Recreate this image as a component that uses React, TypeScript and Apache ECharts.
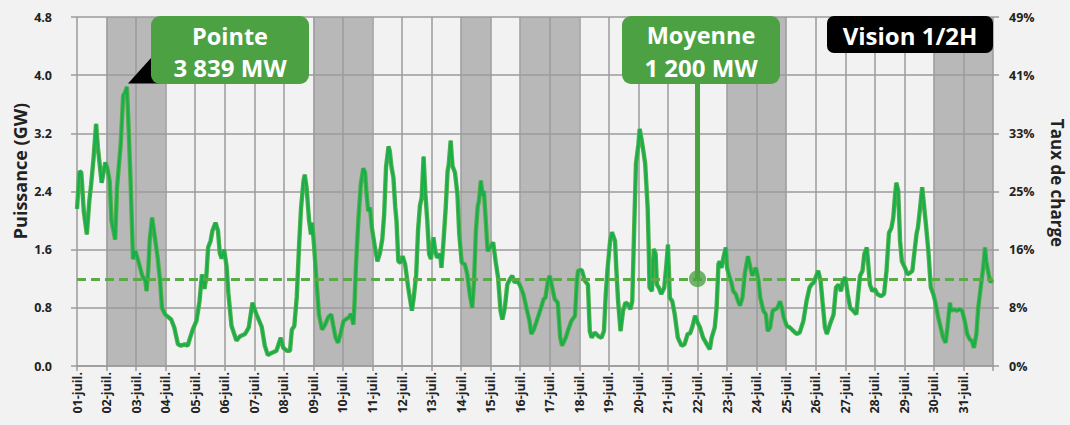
import React, { useEffect, useRef } from "react";
import * as echarts from "echarts";

const dayLabels = [
  "01-juil.", "02-juil.", "03-juil.", "04-juil.", "05-juil.", "06-juil.", "07-juil.", "08-juil.",
  "09-juil.", "10-juil.", "11-juil.", "12-juil.", "13-juil.", "14-juil.", "15-juil.", "16-juil.",
  "17-juil.", "18-juil.", "19-juil.", "20-juil.", "21-juil.", "22-juil.", "23-juil.", "24-juil.",
  "25-juil.", "26-juil.", "27-juil.", "28-juil.", "29-juil.", "30-juil.", "31-juil.",
];

const rightTickLabels = ["0%", "8%", "16%", "25%", "33%", "41%", "49%"];

// hours elapsed since 01-juil. 00:00
const hours = [
  0, 2, 3.5, 5.5, 8, 10, 11.5, 13.5, 15.5, 17, 20, 21, 23, 24.5, 26.5, 28, 31, 32.5, 35.5, 37.5,
  39, 40.5, 41.5, 43.5, 45.5, 47.5, 50.5, 53, 55.5, 56.5, 58, 59, 61, 62.5, 65.5, 67.5, 69, 71.5,
  76.5, 79, 82, 84.5, 87.5, 90, 91.5, 94, 97, 99.5, 101.5, 103.5, 105, 106.5, 108.5, 110, 112.5,
  114.5, 116, 117.5, 119.5, 121.5, 123, 125.5, 129.5, 132.5, 136.5, 139.5, 142.5, 145.5, 150,
  152.5, 155, 158, 162, 165.5, 167.5, 170.5, 173, 174.5, 176.5, 178.5, 180.5, 182, 184, 185,
  186.5, 188.5, 190, 191, 192.5, 194.5, 196.5, 199, 201.5, 204, 206.5, 208, 210, 212, 214, 216.5,
  219, 221, 222.5, 224.5, 225.5, 226.5, 228.5, 230.5, 232.5, 234, 235, 236.5, 238, 239.5, 242,
  244, 246, 248, 249.5, 251, 253, 254, 255.5, 257, 258.5, 259.5, 261, 263, 264.5, 266.5, 269, 272,
  273.5, 275.5, 277, 278.5, 280, 281.5, 283, 284.5, 286, 287.5, 289.5, 291, 292.5, 295, 296,
  297.5, 299.5, 301, 302, 303.5, 305, 307, 309, 310.5, 312.5, 315, 317, 319, 321, 322.5, 324,
  325.5, 326.5, 328, 329.5, 330.5, 332, 333.5, 335.5, 338, 340, 342, 344, 345.5, 347.5, 349.5,
  351.5, 353.5, 355.5, 357.5, 359.5, 362.5, 365, 367.5, 369, 371, 373, 376.5, 379, 380.5, 382.5,
  384, 386, 388, 390.5, 392.5, 394, 397, 399, 401.5, 404.5, 406, 407, 410, 412.5, 415, 416.5,
  418, 420.5, 423.5, 426, 428, 429.5, 431, 433, 434.5, 437, 438, 439.5, 441.5, 443.5, 445.5,
  447.5, 449.5, 451, 452.5, 454, 456, 457, 458.5, 460, 461.5, 463.5, 464.5, 465, 467, 468.5, 470,
  471, 472.5, 474.5, 477, 478.5, 480, 481.5, 483.5, 485.5, 488, 491, 493.5, 496, 498, 500, 502,
  504, 506, 508.5, 511.5, 514, 515.5, 518, 519.5, 521, 522, 523.5, 525, 527, 528, 530, 531.5, 533,
  535, 537, 538.5, 540.5, 542.5, 544, 545, 547, 548.5, 550, 551.5, 553.5, 555, 557.5, 559.5, 561,
  563, 565, 567, 569, 571, 572.5, 574, 576.5, 579, 582, 584.5, 587, 590, 592.5, 595, 596.5, 598.5,
  600, 602, 604, 605.5, 607.5, 609, 611.5, 614.5, 616.5, 618.5, 620.5, 622, 624, 626, 628, 630.5,
  633, 634.5, 636, 638, 639.5, 641.5, 642.5, 644, 646, 648, 650, 653, 655.5, 657.5, 659.5, 661.5,
  663, 664.5, 665.5, 667, 668.5, 670, 672.5, 674.5, 676.5, 678.5, 680, 682, 683, 684.5, 686.5,
  687.5, 689.5, 691.5, 693.5, 695.5, 697, 699.5, 701.5, 703.5, 705.5, 707, 709, 710, 712.5, 714.5,
  717, 719, 721, 723, 725, 727, 728.5, 730.5, 732, 734, 736, 737.5, 738.5, 740.5, 742, 743.5,
];

// power in GW
const powerGW = [
  2.16, 2.68, 2.66, 2.13, 1.81, 2.27, 2.5, 2.87, 3.33, 3.0, 2.52, 2.61, 2.8, 2.73, 2.55, 2.0, 1.74,
  2.45, 3.05, 3.72, 3.76, 3.839, 3.46, 2.55, 1.47, 1.58, 1.4, 1.24, 1.17, 1.03, 1.35, 1.72, 2.04,
  1.86, 1.49, 1.17, 0.8, 0.71, 0.64, 0.53, 0.3, 0.28, 0.3, 0.28, 0.37, 0.5, 0.62, 0.89, 1.26, 1.06,
  1.22, 1.63, 1.72, 1.86, 1.97, 1.86, 1.55, 1.48, 1.6, 1.37, 0.99, 0.55, 0.35, 0.41, 0.44, 0.53,
  0.87, 0.72, 0.54, 0.28, 0.15, 0.18, 0.21, 0.39, 0.25, 0.21, 0.21, 0.5, 0.55, 0.95, 1.7, 2.18,
  2.55, 2.63, 2.45, 2.0, 1.81, 1.97, 1.67, 1.17, 0.71, 0.5, 0.57, 0.67, 0.71, 0.57, 0.39, 0.32,
  0.44, 0.62, 0.65, 0.67, 0.72, 0.57, 0.9, 1.35, 2.0, 2.5, 2.72, 2.66, 2.41, 2.13, 2.18, 1.9, 1.63,
  1.44, 1.55, 1.75, 2.09, 2.73, 3.02, 2.96, 2.73, 2.59, 2.18, 2.0, 1.44, 1.42, 1.51, 1.4, 1.08,
  0.76, 0.94, 1.26, 1.86, 2.2, 2.32, 2.88, 2.36, 2.0, 1.54, 1.47, 1.77, 1.58, 1.49, 1.54, 1.35,
  1.67, 2.18, 2.68, 2.78, 3.1, 2.75, 2.66, 2.36, 1.81, 1.42, 1.4, 1.26, 0.99, 0.8, 1.17, 1.86, 2.2,
  2.27, 2.55, 2.34, 2.41, 2.0, 1.58, 1.63, 1.7, 1.44, 1.22, 0.76, 0.64, 0.8, 1.12, 1.19, 1.24,
  1.15, 1.17, 1.12, 0.99, 0.8, 0.62, 0.44, 0.5, 0.6, 0.78, 0.92, 0.94, 1.17, 1.24, 1.08, 0.92,
  0.87, 0.39, 0.28, 0.39, 0.5, 0.62, 0.69, 1.17, 1.31, 1.32, 1.17, 1.12, 0.48, 0.39, 0.46, 0.41,
  0.39, 0.48, 0.99, 1.35, 1.72, 1.84, 1.72, 1.35, 0.89, 0.48, 0.76, 0.87, 0.85, 0.78, 0.89, 1.86,
  2.78, 3.05, 3.26, 3.12, 2.96, 2.78, 2.18, 1.54, 1.08, 1.03, 1.61, 1.54, 1.12, 1.08, 0.99, 1.08,
  1.35, 1.67, 0.94, 0.89, 0.71, 0.39, 0.28, 0.3, 0.44, 0.45, 0.55, 0.69, 0.6, 0.53, 0.39, 0.3,
  0.23, 0.39, 0.53, 0.8, 1.4, 1.44, 1.35, 1.49, 1.63, 1.35, 1.22, 1.15, 1.03, 0.99, 0.89, 0.83,
  0.94, 1.28, 1.42, 1.51, 1.35, 1.24, 1.31, 1.35, 1.17, 0.94, 0.76, 0.71, 0.48, 0.53, 0.76, 0.78,
  0.8, 0.89, 0.8, 0.67, 0.55, 0.53, 0.48, 0.44, 0.46, 0.62, 0.89, 1.08, 1.12, 1.15, 1.22, 1.31,
  1.17, 0.89, 0.53, 0.44, 0.57, 0.71, 1.08, 1.12, 1.03, 1.17, 1.22, 0.99, 0.8, 0.76, 0.71, 0.99,
  1.24, 1.31, 1.54, 1.63, 1.44, 1.12, 1.03, 1.06, 0.99, 0.96, 0.99, 1.31, 1.83, 1.9, 2.04, 2.36,
  2.52, 2.41, 1.72, 1.44, 1.35, 1.26, 1.28, 1.31, 1.54, 1.83, 1.9, 2.13, 2.46, 2.29, 1.95, 1.58,
  1.08, 0.99, 0.89, 0.67, 0.53, 0.39, 0.32, 0.53, 0.87, 0.76, 0.78, 0.76, 0.78, 0.76, 0.62, 0.44,
  0.37, 0.34, 0.25, 0.44, 0.8, 1.08, 1.35, 1.63, 1.44, 1.26, 1.15, 1.19,
];

// week-ends and bank holiday (start hour, end hour)
const shadedPeriods = [
  [24, 72],
  [192, 240],
  [312, 336],
  [360, 408],
  [528, 576],
  [696, 744],
];

const meanGW = 1.2;
const meanHour = 504;
const meanCalloutTopGW = 3.89;

const FONT = "'Open Sans', 'DejaVu Sans', sans-serif";
const GREEN = "#4ca243";
const GRID = "#9b9b9b";
const TEXT = "#222222";

export default function App() {
  const ref = useRef<HTMLDivElement>(null);

  useEffect(() => {
    document.body.style.margin = "0";
    document.body.style.background = "#f2f2f2";
    if (!ref.current) return;
    const chart = echarts.init(ref.current, undefined, { renderer: "svg" });

    const lineData = hours.map((h, i) => [h, powerGW[i]]);

    chart.setOption({
      animation: false,
      backgroundColor: "#f2f2f2",
      grid: { left: 77, right: 77, top: 17, bottom: 59 },
      xAxis: {
        type: "value",
        min: 0,
        max: 744,
        interval: 24,
        axisLine: { show: true, lineStyle: { color: GRID, width: 1.5 } },
        axisTick: { show: true, length: 5, lineStyle: { color: GRID, width: 1.5 } },
        splitLine: { show: true, lineStyle: { color: GRID, width: 1.5 } },
        axisLabel: {
          rotate: 90,
          margin: 6,
          color: TEXT,
          fontFamily: FONT,
          fontWeight: "bold",
          fontSize: 12.5,
          formatter: (v: number) => dayLabels[Math.round(v / 24)] ?? "",
        },
      },
      yAxis: [
        {
          type: "value",
          min: 0,
          max: 4.8,
          interval: 0.8,
          position: "left",
          axisLine: { show: false },
          axisTick: { show: true, length: 6, lineStyle: { color: GRID, width: 1.5 } },
          splitLine: { show: true, lineStyle: { color: GRID, width: 1.5 } },
          axisLabel: {
            margin: 25,
            color: TEXT,
            fontFamily: FONT,
            fontWeight: "bold",
            fontSize: 12.5,
            formatter: (v: number) => v.toFixed(1),
          },
        },
        {
          type: "value",
          min: 0,
          max: 4.8,
          interval: 0.8,
          position: "right",
          axisLine: { show: false },
          axisTick: { show: true, length: 6, lineStyle: { color: GRID, width: 1.5 } },
          splitLine: { show: false },
          axisLabel: {
            margin: 16,
            color: TEXT,
            fontFamily: FONT,
            fontWeight: "bold",
            fontSize: 12.5,
            formatter: (v: number) => rightTickLabels[Math.round(v / 0.8)] ?? "",
          },
        },
      ],
      series: [
        {
          type: "custom",
          name: "bands",
          z: -1,
          silent: true,
          data: shadedPeriods,
          encode: { x: [0, 1] },
          renderItem: (params: any, api: any) => {
            const s = api.coord([api.value(0), 4.8]);
            const e = api.coord([api.value(1), 0]);
            return {
              type: "rect",
              shape: { x: s[0], y: s[1], width: e[0] - s[0], height: e[1] - s[1] },
              style: { fill: "#b8b8b8" },
            };
          },
        },
        {
          type: "line",
          name: "Puissance outline",
          data: lineData,
          showSymbol: false,
          silent: true,
          lineStyle: { color: "#56ad4c", width: 4.4 },
          z: 3,
          markLine: {
            silent: true,
            symbol: "none",
            label: { show: false },
            lineStyle: { color: "#5aaa46", width: 3, type: [9, 5] },
            data: [{ yAxis: meanGW }],
          },
        },
        {
          type: "line",
          name: "Puissance",
          data: lineData,
          showSymbol: false,
          silent: true,
          lineStyle: { color: "#14b04c", width: 2.2 },
          z: 4,
        },
        {
          type: "line",
          name: "Moyenne lien",
          data: [
            [meanHour, meanGW],
            [meanHour, meanCalloutTopGW],
          ],
          showSymbol: false,
          silent: true,
          lineStyle: { color: GREEN, width: 5 },
          z: 5,
        },
        {
          type: "scatter",
          name: "Moyenne",
          data: [[meanHour, meanGW]],
          symbol: "circle",
          symbolSize: 17,
          itemStyle: { color: GREEN },
          silent: true,
          z: 6,
        },
      ],
      graphic: [
        {
          type: "polygon",
          shape: { points: [[128, 83.5], [151, 58], [166, 83.5]] },
          style: { fill: "#000000" },
          z: 100,
        },
        {
          type: "rect",
          shape: { x: 151, y: 16, width: 158, height: 68, r: 9 },
          style: { fill: GREEN },
          z: 101,
        },
        {
          type: "text",
          x: 230,
          y: 36,
          style: { text: "Pointe", fill: "#ffffff", font: `bold 23.5px ${FONT}`, align: "center", verticalAlign: "middle" },
          z: 102,
        },
        {
          type: "text",
          x: 230,
          y: 67,
          style: { text: "3 839 MW", fill: "#ffffff", font: `bold 24px ${FONT}`, align: "center", verticalAlign: "middle" },
          z: 102,
        },
        {
          type: "rect",
          shape: { x: 622, y: 16, width: 158, height: 68, r: 9 },
          style: { fill: GREEN },
          z: 101,
        },
        {
          type: "text",
          x: 701,
          y: 35,
          style: { text: "Moyenne", fill: "#ffffff", font: `bold 23.5px ${FONT}`, align: "center", verticalAlign: "middle" },
          z: 102,
        },
        {
          type: "text",
          x: 701,
          y: 67,
          style: { text: "1 200 MW", fill: "#ffffff", font: `bold 24px ${FONT}`, align: "center", verticalAlign: "middle" },
          z: 102,
        },
        {
          type: "rect",
          shape: { x: 827, y: 16, width: 166, height: 37, r: 7 },
          style: { fill: "#000000" },
          z: 101,
        },
        {
          type: "text",
          x: 910,
          y: 35,
          style: { text: "Vision 1/2H", fill: "#ffffff", font: `bold 24px ${FONT}`, align: "center", verticalAlign: "middle" },
          z: 102,
        },
        {
          type: "text",
          x: 20,
          y: 171,
          rotation: Math.PI / 2,
          style: { text: "Puissance (GW)", fill: TEXT, font: `bold 18px ${FONT}`, align: "center", verticalAlign: "middle" },
          z: 102,
        },
        {
          type: "text",
          x: 1057,
          y: 183,
          rotation: -Math.PI / 2,
          style: { text: "Taux de charge", fill: TEXT, font: `bold 17px ${FONT}`, align: "center", verticalAlign: "middle" },
          z: 102,
        },
      ],
    });

    return () => chart.dispose();
  }, []);

  return <div ref={ref} style={{ width: 1070, height: 425 }} />;
}
